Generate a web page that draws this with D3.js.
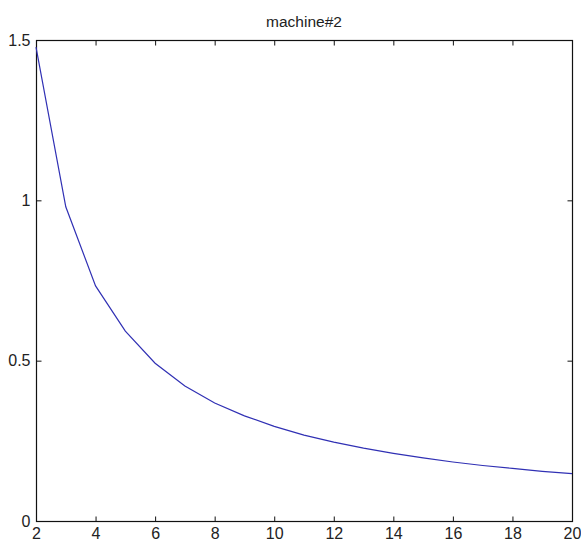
<!DOCTYPE html>
<html>
<head>
<meta charset="utf-8">
<script src="https://cdn.jsdelivr.net/npm/d3@7"></script>
<style>
  body { margin: 0; background: #fff; }
  svg { display: block; }
  .tick text { font-family: "Liberation Sans", Arial, sans-serif; font-size: 16px; fill: #222; }
</style>
</head>
<body>
<div id="chart"></div>
<script>
// number of machines on x
const xValues = [2, 3, 4, 5, 6, 7, 8, 9, 10, 11, 12, 13, 14, 15, 16, 17, 18, 19, 20];
const yValues = [1.478, 0.98, 0.733, 0.592, 0.492, 0.421, 0.368, 0.328, 0.295, 0.268, 0.246, 0.227, 0.211, 0.197, 0.184, 0.173, 0.164, 0.155, 0.148];
const xTicks = [2, 4, 6, 8, 10, 12, 14, 16, 18, 20];
const yTicks = [0, 0.5, 1, 1.5];
const chartTitle = "machine#2";

const width = 581, height = 544;
const margin = { top: 40, right: 9, bottom: 23, left: 36 };

const svg = d3.select("#chart").append("svg")
    .attr("width", width)
    .attr("height", height);

const x = d3.scaleLinear()
    .domain([2, 20])
    .range([margin.left, width - margin.right]);

const y = d3.scaleLinear()
    .domain([0, 1.5])
    .range([height - margin.bottom, margin.top]);

const tickLen = 5;

// bottom axis, ticks pointing inside
svg.append("g")
    .attr("transform", `translate(0,${height - margin.bottom + 0.5})`)
    .call(d3.axisBottom(x).tickValues(xTicks).tickFormat(d3.format("d")).tickSizeInner(-tickLen).tickSizeOuter(0).tickPadding(6))
    .call(g => g.select(".domain").remove());

// left axis
svg.append("g")
    .attr("transform", `translate(${margin.left + 0.5},0)`)
    .call(d3.axisLeft(y).tickValues(yTicks).tickFormat(d => d).tickSizeInner(-tickLen).tickSizeOuter(0).tickPadding(6))
    .call(g => g.select(".domain").remove());

// top and right ticks (box)
svg.append("g")
    .attr("transform", `translate(0,${margin.top + 0.5})`)
    .call(d3.axisTop(x).tickValues(xTicks).tickFormat("").tickSizeInner(-tickLen).tickSizeOuter(0))
    .call(g => g.select(".domain").remove());

svg.append("g")
    .attr("transform", `translate(${width - margin.right + 0.5},0)`)
    .call(d3.axisRight(y).tickValues(yTicks).tickFormat("").tickSizeInner(-tickLen).tickSizeOuter(0))
    .call(g => g.select(".domain").remove());

svg.selectAll(".tick line").attr("stroke", "#111");

// frame
svg.append("rect")
    .attr("x", margin.left + 0.5)
    .attr("y", margin.top + 0.5)
    .attr("width", width - margin.left - margin.right)
    .attr("height", height - margin.top - margin.bottom)
    .attr("fill", "none")
    .attr("stroke", "#111")
    .attr("stroke-width", 1.2);

const line = d3.line()
    .x((d, i) => x(xValues[i]))
    .y(d => y(d));

svg.append("path")
    .datum(yValues)
    .attr("d", line)
    .attr("fill", "none")
    .attr("stroke", "#3030b4")
    .attr("stroke-width", 1.2);

svg.append("text")
    .attr("x", (margin.left + width - margin.right) / 2)
    .attr("y", 27)
    .attr("text-anchor", "middle")
    .attr("font-family", "Liberation Sans, Arial, sans-serif")
    .attr("font-size", 15.5)
    .attr("fill", "#222")
    .text(chartTitle);
</script>
</body>
</html>
